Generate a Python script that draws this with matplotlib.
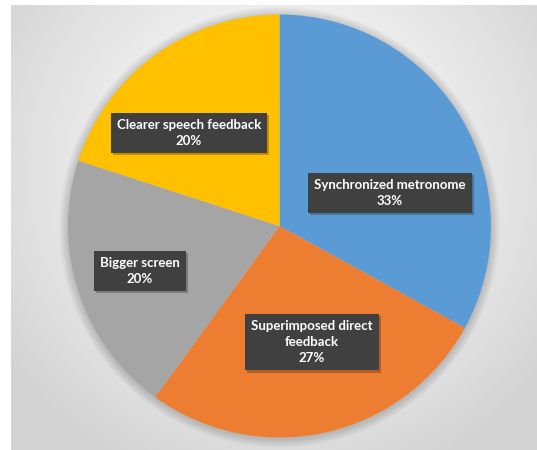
import numpy as np
import matplotlib.pyplot as plt
import matplotlib.patheffects as pe

# Pie data
labels = ["Synchronized metronome", "Superimposed direct\nfeedback", "Bigger screen", "Clearer speech feedback"]
values = [33, 27, 20, 20]
colors = ["#5B9BD5", "#ED7D31", "#A5A5A5", "#FFC000"]
# label box centres in pixels (x from left, y from top)
label_pos = [(390, 193), (312, 342), (140, 271), (189, 133)]

W, H = 537, 450
cx, cy, r = 279.5, 226, 211.5

fig = plt.figure(figsize=(W / 100, H / 100), dpi=100)
ax = fig.add_axes([0, 0, 1, 1])

# radial gradient background panel
px0, py0 = 11, 5
xs = np.linspace(px0, W, 300)
ys = np.linspace(py0, H, 260)
X, Y = np.meshgrid(xs, ys)
d = np.sqrt(((X - 279) / 330) ** 2 + ((Y - 170) / 330) ** 2)
g = np.clip(1.0 - 0.17 * d ** 1.3, 0.83, 1.0)
img = np.dstack([g, g, g])
ax.imshow(img, extent=[px0, W, 0, H - py0], origin="upper", aspect="auto", zorder=0,
          interpolation="bilinear")

# soft shadow behind the pie
for k in range(10, 0, -1):
    ax.add_patch(plt.Circle((cx, H - cy - 1), r + k * 0.9, color="black", alpha=0.015,
                            lw=0, zorder=1))

ax.pie(values, colors=colors, startangle=90, counterclock=False,
       center=(cx, H - cy), radius=r, frame=True,
       wedgeprops=dict(linewidth=0, zorder=2))
ax.set_xlim(0, W)
ax.set_ylim(0, H)
ax.axis("off")

for lab, v, (x, y) in zip(labels, values, label_pos):
    t = ax.text(x, H - y, f"{lab}\n{v}%", ha="center", va="center", color="white",
                fontsize=9.5, fontweight="bold", family="Lato", linespacing=1.45,
                bbox=dict(boxstyle="square,pad=0.45", fc="#404040", ec="none"), zorder=5)
    t.get_bbox_patch().set_path_effects(
        [pe.SimplePatchShadow(offset=(1.5, -1.5), shadow_rgbFace="black", alpha=0.25), pe.Normal()])

plt.savefig("out.png", dpi=100)
